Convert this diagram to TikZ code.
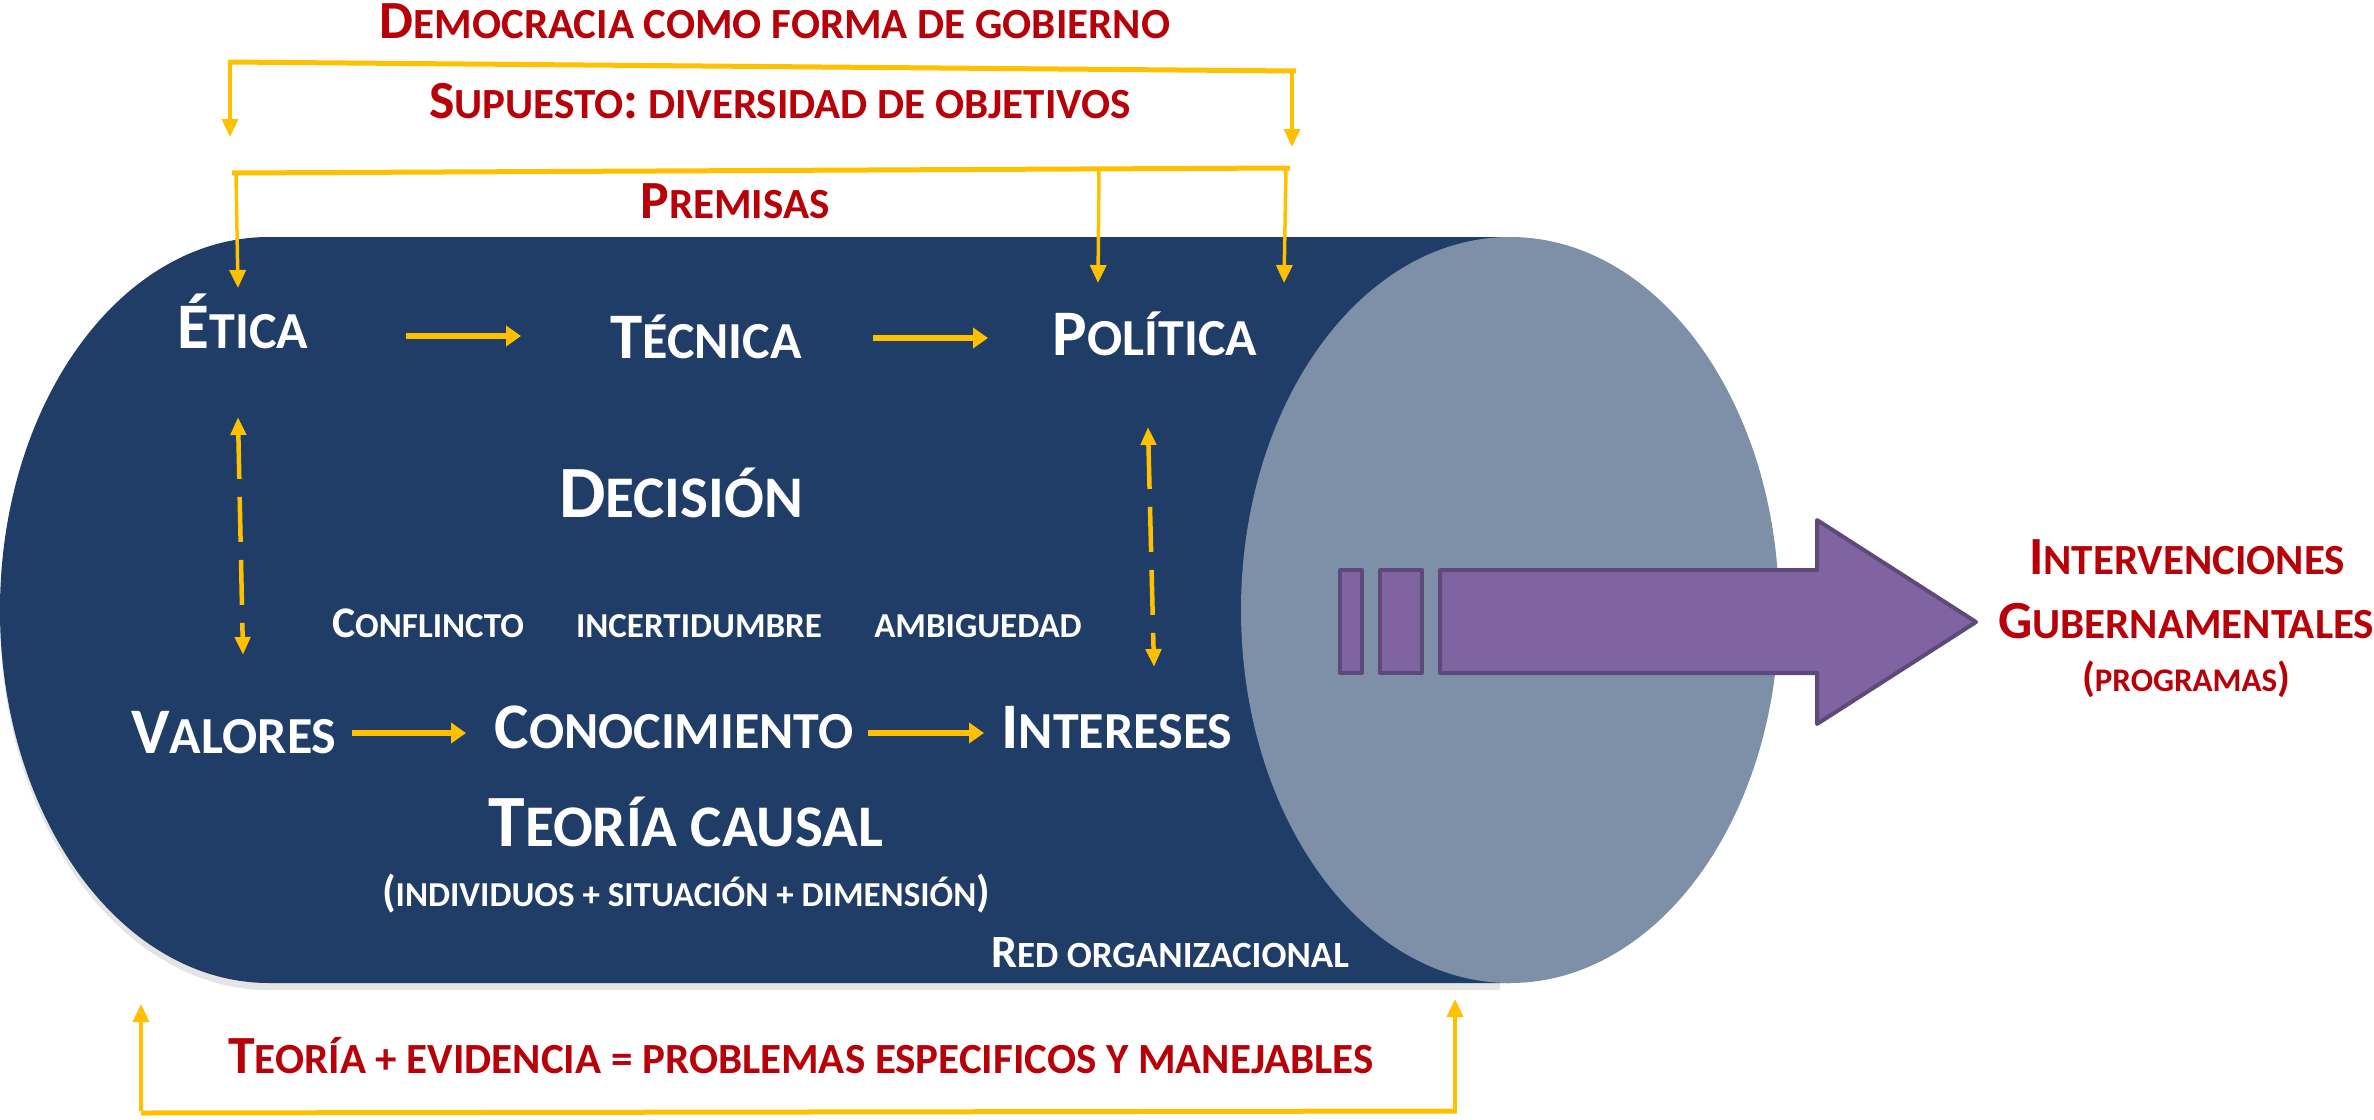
\documentclass[tikz,border=0pt]{standalone}
\usepackage{fontspec}
\setmainfont{Carlito}
\usepackage{graphicx}
\usetikzlibrary{arrows.meta}
\definecolor{bodyblue}{RGB}{31,61,102}
\definecolor{capblue}{RGB}{125,144,168}
\definecolor{darkred}{RGB}{184,0,8}
\definecolor{gold}{RGB}{255,192,0}
\definecolor{purp}{RGB}{128,100,162}
\definecolor{purpline}{RGB}{94,74,122}
\newcommand\B[1]{\scalebox{1.25}{#1}}
\tikzset{
  redtxt/.style={text=darkred, anchor=base, inner sep=0pt, font=\bfseries\fontsize{43pt}{43pt}\selectfont},
  redsm/.style={redtxt, font=\bfseries\fontsize{33pt}{33pt}\selectfont},
  wbig/.style={text=white, anchor=base, inner sep=0pt, font=\bfseries\fontsize{52pt}{52pt}\selectfont},
  whuge/.style={wbig, font=\bfseries\fontsize{59pt}{59pt}\selectfont},
  wsmall/.style={wbig, font=\bfseries\fontsize{35pt}{35pt}\selectfont},
  wred/.style={wbig, font=\bfseries\fontsize{37pt}{37pt}\selectfont},
  bline/.style={draw=gold, line width=5pt},
  drop/.style={draw=gold, line width=3.5pt, -{Triangle[length=18pt,width=16pt]}},
  harrow/.style={draw=gold, line width=6pt, -{Triangle[length=15pt,width=20pt]}},
  darrow/.style={draw=gold, line width=4.5pt, dash pattern=on 45pt off 18pt, {Triangle[length=18pt,width=15pt]}-{Triangle[length=18pt,width=15pt]}},
}
\begin{document}
\begin{tikzpicture}[x=1pt,y=-1pt]
\useasboundingbox (0,0) rectangle (2374,1119);
% shadow
\fill[gray!35, opacity=0.6] (269,243) -- (1500,243) -- (1500,990) -- (269,990) arc[start angle=90, end angle=270, x radius=269, y radius=373.5] -- cycle;
% cylinder body
\fill[bodyblue] (269,237) -- (1510,237) -- (1510,983) -- (269,983) arc[start angle=90, end angle=270, x radius=269, y radius=373] -- cycle;
\fill[capblue] (1510,610) ellipse [x radius=269, y radius=373];

% purple arrow
\filldraw[fill=purp, draw=purpline, line width=4pt, line join=round] (1340,570) rectangle (1362,673);
\filldraw[fill=purp, draw=purpline, line width=4pt, line join=round] (1380,570) rectangle (1422,673);
\filldraw[fill=purp, draw=purpline, line width=4pt, line join=round] (1440,570) -- (1817,570) -- (1817,520) -- (1976,622) -- (1817,724) -- (1817,673) -- (1440,673) -- cycle;

% top texts
\node[redtxt] (dem) at (775,38) {\B{D}EMOCRACIA COMO FORMA DE GOBIERNO};
\node[redtxt] (sup) at (780,118) {\B{S}UPUESTO\B{:} DIVERSIDAD DE OBJETIVOS};
\node[redtxt] (pre) at (735,218) {\B{P}REMISAS};

% inner labels
\node[wbig] (etica) at (243,348) {\B{É}TICA};
\node[wbig] (tecnica) at (706,358) {\B{T}ÉCNICA};
\node[wbig] (politica) at (1155,355) {\B{P}OLÍTICA};
\node[whuge] (decision) at (681,517) {\B{D}ECISIÓN};
\node[wsmall] (conf) at (428,637) {\B{C}ONFLINCTO};
\node[wsmall] (inc) at (699,637) {INCERTIDUMBRE};
\node[wsmall] (amb) at (978,637) {AMBIGUEDAD};
\node[wbig] (valores) at (234,753) {\B{V}ALORES};
\node[wbig] (conoc) at (674,748) {\B{C}ONOCIMIENTO};
\node[wbig] (inter) at (1117,748) {\B{I}NTERESES};
\node[whuge] (teoria) at (686,846) {\B{T}EORÍA CAUSAL};
\node[wsmall] (indiv) at (686,906) {\B{(}INDIVIDUOS + SITUACIÓN + DIMENSIÓN\B{)}};
\node[wred] (red) at (1170,967) {\B{R}ED ORGANIZACIONAL};

% right texts
\node[redtxt] (interv) at (2187,574) {\B{I}NTERVENCIONES};
\node[redtxt] (guber) at (2186,638) {\B{G}UBERNAMENTALES};
\node[redsm] (prog) at (2186,691) {\B{(}PROGRAMAS\B{)}};

% bottom text
\node[redtxt] (tev) at (801,1073) {\B{T}EORÍA + EVIDENCIA = PROBLEMAS ESPECIFICOS Y MANEJABLES};

% bracket 1
\coordinate (b1l) at (230,62);
\coordinate (b1r) at (1294,71);
\coordinate (b1lt) at (230,137);
\coordinate (b1rt) at (1292,147);
\draw[bline] ([xshift=-2pt]b1l) -- ([xshift=2pt]b1r);
\draw[drop] (b1l) -- (b1lt);
\draw[drop] ([xshift=-2pt]b1r) -- (b1rt);

% bracket 2
\coordinate (b2l) at (232,173);
\coordinate (b2r) at (1290,168);
\coordinate (b2m) at (1099,169);
\draw[bline] (b2l) -- (b2r);
\coordinate (t1) at (238,288);
\coordinate (t2) at (1098,283);
\coordinate (t3) at (1284,283);
\draw[drop] ([xshift=4pt]b2l) -- (t1);
\draw[drop] (b2m) -- (t2);
\draw[drop] ([xshift=-4pt]b2r) -- (t3);

% horizontal arrows
\coordinate (h1s) at (406,336); \coordinate (h1e) at (521,336);
\coordinate (h2s) at (873,338); \coordinate (h2e) at (988,338);
\coordinate (h3s) at (352,733); \coordinate (h3e) at (466,733);
\coordinate (h4s) at (868,733); \coordinate (h4e) at (984,733);
\draw[harrow] (h1s) -- (h1e);
\draw[harrow] (h2s) -- (h2e);
\draw[harrow] (h3s) -- (h3e);
\draw[harrow] (h4s) -- (h4e);

% dashed double arrows
\coordinate (d1a) at (238,417); \coordinate (d1b) at (243,655);
\coordinate (d2a) at (1148,427); \coordinate (d2b) at (1154,667);
\draw[darrow] (d1a) -- (d1b);
\draw[darrow] (d2a) -- (d2b);

% bottom bracket
\coordinate (b3l) at (141,1113);
\coordinate (b3r) at (1457,1111);
\coordinate (u1) at (141,1004);
\coordinate (u2) at (1455,999);
\draw[bline] (b3l) -- (b3r);
\draw[drop] ([yshift=2pt]b3l) -- (u1);
\draw[drop] ([xshift=-2pt,yshift=2pt]b3r) -- (u2);
\end{tikzpicture}
\end{document}
